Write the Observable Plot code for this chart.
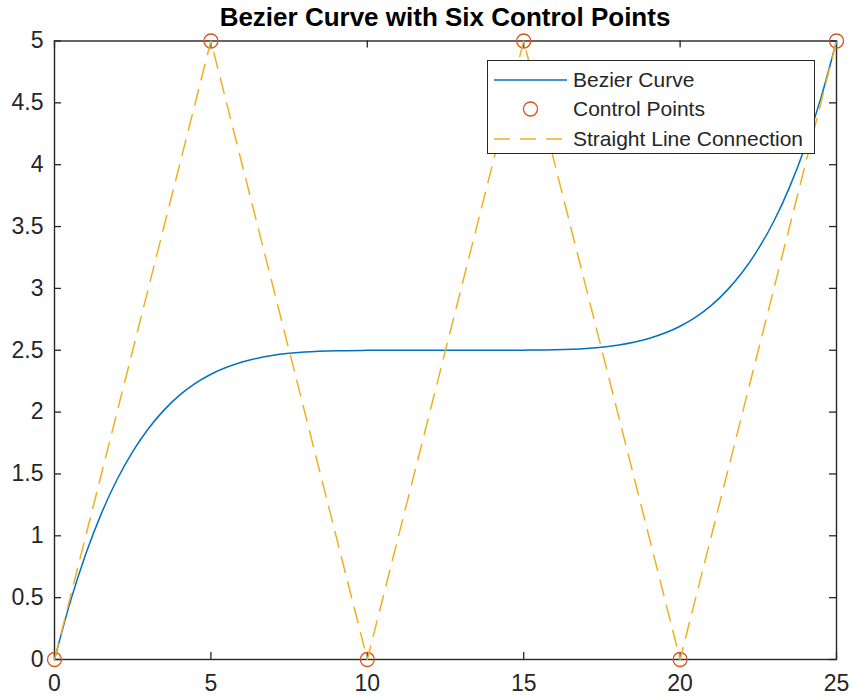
<!DOCTYPE html>
<html>
<head>
<meta charset="utf-8">
<script src="https://cdn.jsdelivr.net/npm/d3@7"></script>
<script src="https://cdn.jsdelivr.net/npm/@observablehq/plot@0.6"></script>
<style>
  html, body { margin: 0; padding: 0; background: #fff; }
  #wrap { position: relative; width: 852px; height: 699px; font-family: "Liberation Sans", Arial, Helvetica, sans-serif; color: #262626; }
  #title { box-sizing: border-box; width: 852px; height: 32px; line-height: 34px; padding-left: 54px; padding-right: 16px; text-align: center; font-weight: bold; font-size: 26px; color: #000; white-space: nowrap; }
  #legend { position: absolute; left: 487px; top: 60px; width: 328px; height: 94px; box-sizing: border-box; border: 1.3px solid #262626; background: #fff; }
  .row { position: absolute; left: 0; height: 28px; width: 100%; }
  .row svg { position: absolute; left: 6px; top: 0; }
  .row span { position: absolute; left: 85px; top: 0; line-height: 28px; font-size: 21px; color: #262626; white-space: nowrap; }
</style>
</head>
<body>
<div id="wrap">
  <div id="title"></div>
  <div id="chart"></div>
  <div id="legend"></div>
</div>
<script>
// ---- data ----
const titleText = "Bezier Curve with Six Control Points";
const seriesNames = ["Bezier Curve", "Control Points", "Straight Line Connection"];
const seriesColors = ["#0072BD", "#D95319", "#EDB120"];

const controlX = [0, 5, 10, 15, 20, 25];
const controlY = [0, 5, 0, 5, 0, 5];

const curveX = [0, 0.5, 1, 1.5, 2, 2.5, 3, 3.5, 4, 4.5, 5, 6, 7, 8, 9, 10, 11, 12, 13, 14, 15, 16, 17, 18, 19, 20, 20.5, 21, 21.5, 22, 22.5, 23, 23.5, 24, 24.5, 25];
const curveY = [0, 0.462, 0.852, 1.181, 1.455, 1.681, 1.866, 2.016, 2.137, 2.232, 2.306, 2.405, 2.459, 2.485, 2.496, 2.499, 2.500, 2.500, 2.500, 2.500, 2.501, 2.504, 2.515, 2.541, 2.595, 2.694, 2.768, 2.863, 2.984, 3.134, 3.319, 3.545, 3.819, 4.148, 4.538, 5];

const xTicks = [0, 5, 10, 15, 20, 25];
const yTicks = [0, 0.5, 1, 1.5, 2, 2.5, 3, 3.5, 4, 4.5, 5];
const xTickLabels = ["0", "5", "10", "15", "20", "25"];
const yTickLabels = ["0", "0.5", "1", "1.5", "2", "2.5", "3", "3.5", "4", "4.5", "5"];

// ---- build ----
const curve = curveX.map((x, i) => ({x, y: curveY[i]}));
const controls = controlX.map((x, i) => ({x, y: controlY[i]}));

const W = 852, H = 667;
const mL = 54, mR = 16, mT = 8.5, mB = 40;
const innerW = W - mL - mR, innerH = H - mT - mB;
const tickLen = 7;
const axisColor = "#262626";

document.getElementById("title").textContent = titleText;

const chart = Plot.plot({
  width: W,
  height: H,
  marginLeft: mL,
  marginRight: mR,
  marginTop: mT,
  marginBottom: mB,
  style: {fontFamily: '"Liberation Sans", Arial, Helvetica, sans-serif', fontSize: "23px", color: axisColor, background: "#fff", overflow: "visible"},
  x: {domain: [0, 25]},
  y: {domain: [0, 5]},
  marks: [
    Plot.axisX({ticks: xTicks, tickSize: 0, tickPadding: 15, fontSize: 23, fill: axisColor,
      tickFormat: d => xTickLabels[xTicks.indexOf(d)], label: null}),
    Plot.axisY({ticks: yTicks, tickSize: 0, tickPadding: 11, fontSize: 23, fill: axisColor,
      tickFormat: d => yTickLabels[yTicks.indexOf(d)], label: null}),
    // inward ticks on all four sides
    Plot.tickX(xTicks, {x: d => d, insetTop: innerH - tickLen, stroke: axisColor, strokeWidth: 1.3}),
    Plot.tickX(xTicks, {x: d => d, insetBottom: innerH - tickLen, stroke: axisColor, strokeWidth: 1.3}),
    Plot.tickY(yTicks, {y: d => d, insetRight: innerW - tickLen, stroke: axisColor, strokeWidth: 1.3}),
    Plot.tickY(yTicks, {y: d => d, insetLeft: innerW - tickLen, stroke: axisColor, strokeWidth: 1.3}),
    Plot.frame({stroke: axisColor, strokeWidth: 1.4}),
    Plot.line(curve, {x: "x", y: "y", stroke: seriesColors[0], strokeWidth: 1.5, curve: "monotone-x"}),
    Plot.dot(controls, {x: "x", y: "y", r: 7, stroke: seriesColors[1], fill: "none", strokeWidth: 1.3}),
    Plot.line(controls, {x: "x", y: "y", stroke: seriesColors[2], strokeWidth: 1.5, strokeDasharray: "16,10"})
  ]
});
document.getElementById("chart").appendChild(chart);

// ---- legend ----
const legend = document.getElementById("legend");
const rowTops = [5, 34, 64];
seriesNames.forEach((name, i) => {
  const row = document.createElement("div");
  row.className = "row";
  row.style.top = rowTops[i] + "px";
  let swatch;
  if (i === 0) {
    swatch = `<line x1="0" x2="73" y1="14" y2="14" stroke="${seriesColors[0]}" stroke-width="1.5"/>`;
  } else if (i === 1) {
    swatch = `<circle cx="36.5" cy="14" r="7" fill="none" stroke="${seriesColors[1]}" stroke-width="1.3"/>`;
  } else {
    swatch = `<line x1="0" x2="73" y1="14" y2="14" stroke="${seriesColors[2]}" stroke-width="1.5" stroke-dasharray="16,10"/>`;
  }
  row.innerHTML = `<svg width="74" height="28">${swatch}</svg><span>${name}</span>`;
  legend.appendChild(row);
});
</script>
</body>
</html>
